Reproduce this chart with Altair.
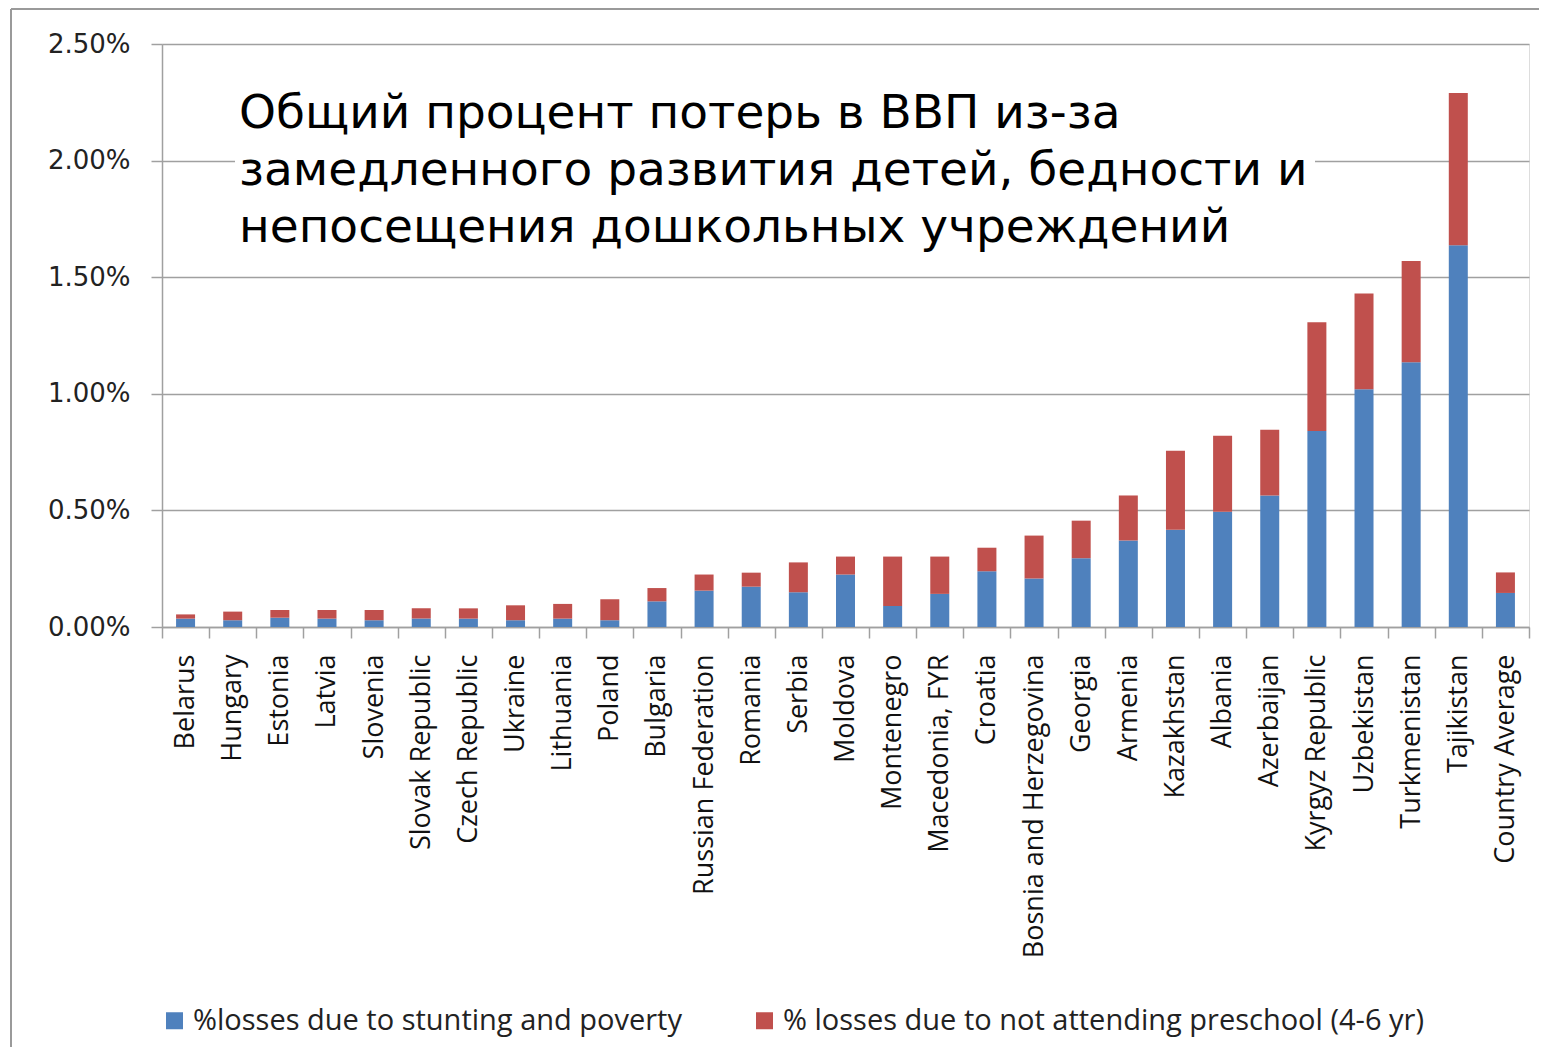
import altair as alt
import pandas as pd

countries = ["Belarus", "Hungary", "Estonia", "Latvia", "Slovenia", "Slovak Republic",
             "Czech Republic", "Ukraine", "Lithuania", "Poland", "Bulgaria",
             "Russian Federation", "Romania", "Serbia", "Moldova", "Montenegro",
             "Macedonia, FYR", "Croatia", "Bosnia and Herzegovina", "Georgia", "Armenia",
             "Kazakhstan", "Albania", "Azerbaijan", "Kyrgyz Republic", "Uzbekistan",
             "Turkmenistan", "Tajikistan", "Country Average"]

# values in percent of GDP
stunting = [0.036, 0.029, 0.040, 0.036, 0.029, 0.036, 0.036, 0.029, 0.036, 0.029, 0.110,
            0.156, 0.173, 0.149, 0.225, 0.090, 0.142, 0.239, 0.208, 0.295, 0.371,
            0.417, 0.494, 0.564, 0.841, 1.019, 1.135, 1.637, 0.146]
preschool = [0.018, 0.037, 0.033, 0.037, 0.044, 0.044, 0.044, 0.064, 0.063, 0.090, 0.057,
             0.069, 0.060, 0.128, 0.077, 0.212, 0.160, 0.101, 0.184, 0.161, 0.193,
             0.339, 0.326, 0.282, 0.466, 0.411, 0.435, 0.653, 0.088]

series = ["%losses due to stunting and poverty",
          "% losses due to not attending preschool (4-6 yr)"]
colors = ["#4F81BD", "#C0504D"]
y_ticks = [0, 0.005, 0.01, 0.015, 0.02, 0.025]

title_text = ("Общий процент потерь в ВВП из-за\n"
              "замедленного развития детей, бедности и\n"
              "непосещения дошкольных учреждений")

rows = []
for i, c in enumerate(countries):
    rows.append({"country": c, "series": series[0], "order": 0, "value": stunting[i] / 100})
    rows.append({"country": c, "series": series[1], "order": 1, "value": preschool[i] / 100})
df = pd.DataFrame(rows)

W, H = 1367, 583
GRAY = "#a0a0a0"

bars = alt.Chart(df).mark_bar(size=19).encode(
    x=alt.X("country:N", sort=countries, title=None,
            scale=alt.Scale(paddingInner=0, paddingOuter=0),
            axis=alt.Axis(labelAngle=270, labelFont="Open Sans", labelFontSize=27,
                          labelColor="#111", labelPadding=16, tickSize=11,
                          tickColor=GRAY, tickWidth=1.5, domainColor=GRAY,
                          domainWidth=1.5, tickBand="extent", grid=False,
                          labelLimit=400)),
    y=alt.Y("value:Q", stack="zero", title=None,
            scale=alt.Scale(domain=[0, 0.025], nice=False),
            axis=alt.Axis(values=y_ticks, format=".2%", labelFont="DejaVu Sans",
                          labelFontSize=26, labelColor="#222", labelPadding=21,
                          tickSize=11, tickColor=GRAY, tickWidth=1.5,
                          domainColor=GRAY, domainWidth=1.5, grid=True,
                          gridColor=GRAY, gridWidth=1.5)),
    color=alt.Color("series:N", scale=alt.Scale(domain=series, range=colors),
                    legend=alt.Legend(orient="none", legendX=-2, legendY=962,
                                      direction="horizontal", title=None,
                                      symbolType="square", symbolSize=289,
                                      symbolStrokeWidth=0, labelFont="Open Sans",
                                      labelFontSize=29, labelColor="#222",
                                      columnPadding=68, labelOffset=4,
                                      labelLimit=800)),
    order=alt.Order("order:Q"),
)

one = pd.DataFrame({"t": [title_text]})

title_bg = alt.Chart(one).mark_rect(color="white").encode(
    x=alt.value(73), x2=alt.value(1153), y=alt.value(40), y2=alt.value(206))

title = alt.Chart(one).mark_text(align="left", baseline="alphabetic", font="DejaVu Sans",
                                 fontSize=47, lineBreak="\n", lineHeight=57,
                                 color="#000").encode(
    text="t:N", x=alt.value(77), y=alt.value(84))

frame_left = alt.Chart(one).mark_rule(color="#9a9a9a", strokeWidth=2).encode(
    x=alt.value(-151), y=alt.value(-35), y2=alt.value(1010))
frame_top = alt.Chart(one).mark_rule(color="#9a9a9a", strokeWidth=2).encode(
    x=alt.value(-151), x2=alt.value(1390), y=alt.value(-35))

chart = alt.layer(bars, title_bg, title, frame_left, frame_top).properties(
    width=W, height=H, autosize="none",
    padding={"left": 154, "top": 36, "right": 10, "bottom": 420},
).configure_view(stroke=None).configure(background="white")

chart.save("out.html", embed_options={"renderer": "svg", "actions": False})
